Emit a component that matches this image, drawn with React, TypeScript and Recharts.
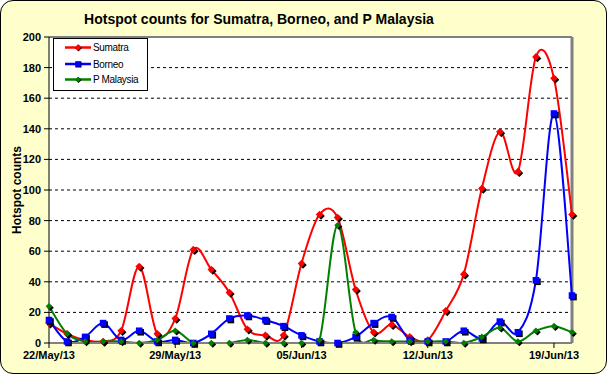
import React from 'react';
import { LineChart, Line, XAxis, YAxis, CartesianGrid, ReferenceLine, Legend } from 'recharts';

const dates = [
  '22/May/13', '23/May/13', '24/May/13', '25/May/13', '26/May/13', '27/May/13', '28/May/13',
  '29/May/13', '30/May/13', '31/May/13', '01/Jun/13', '02/Jun/13', '03/Jun/13', '04/Jun/13',
  '05/Jun/13', '06/Jun/13', '07/Jun/13', '08/Jun/13', '09/Jun/13', '10/Jun/13', '11/Jun/13',
  '12/Jun/13', '13/Jun/13', '14/Jun/13', '15/Jun/13', '16/Jun/13', '17/Jun/13', '18/Jun/13',
  '19/Jun/13', '20/Jun/13',
];
const sumatra = [13, 6, 2, 1, 8, 50, 6, 16, 61, 48, 33, 9, 5, 5, 52, 84, 82, 35, 7, 12, 4, 2, 21, 45, 101, 138, 112, 187, 173, 84];
const borneo = [15, 1, 4, 13, 2, 8, 1, 2, 0, 6, 16, 18, 15, 11, 5, 1, 0, 4, 13, 17, 2, 1, 1, 8, 3, 14, 7, 41, 150, 31];
const pMalaysia = [24, 6, 1, 1, 1, 0, 2, 8, 0, 0, 0, 2, 0, 0, 0, 2, 77, 7, 2, 1, 1, 1, 1, 0, 4, 10, 1, 8, 11, 7];
const yTicks = [0, 20, 40, 60, 80, 100, 120, 140, 160, 180, 200];

const seriesInfo = [
  { key: 'sumatra', name: 'Sumatra', color: '#FF0000', shape: 'diamond', size: 3.8 },
  { key: 'borneo', name: 'Borneo', color: '#0000FF', shape: 'square', size: 3.3 },
  { key: 'pMalaysia', name: 'P Malaysia', color: '#008000', shape: 'diamond', size: 3.3 },
];

const data = dates.map((d, i) => ({ date: d, sumatra: sumatra[i], borneo: borneo[i], pMalaysia: pMalaysia[i] }));

const FONT = '"Liberation Sans", Arial, sans-serif';

// Excel-like smoothed line (Catmull-Rom through the points)
const excelCurve = (context: any) => {
  let xs: number[] = [];
  let ys: number[] = [];
  return {
    areaStart() {},
    areaEnd() {},
    lineStart() { xs = []; ys = []; },
    point(x: number, y: number) { xs.push(+x); ys.push(+y); },
    lineEnd() {
      const n = xs.length;
      if (!n) return;
      context.moveTo(xs[0], ys[0]);
      for (let i = 0; i < n - 1; i++) {
        const x0 = i > 0 ? xs[i - 1] : xs[i];
        const y0 = i > 0 ? ys[i - 1] : ys[i];
        const x3 = i + 2 < n ? xs[i + 2] : xs[i + 1];
        const y3 = i + 2 < n ? ys[i + 2] : ys[i + 1];
        const c1x = xs[i] + (xs[i + 1] - x0) / 6;
        const c1y = ys[i] + (ys[i + 1] - y0) / 6;
        const c2x = xs[i + 1] - (x3 - xs[i]) / 6;
        const c2y = ys[i + 1] - (y3 - ys[i]) / 6;
        context.bezierCurveTo(c1x, c1y, c2x, c2y, xs[i + 1], ys[i + 1]);
      }
    },
  };
};

const shapePath = (shape: string, x: number, y: number, s: number) =>
  shape === 'diamond'
    ? `M${x},${y - s}L${x + s},${y}L${x},${y + s}L${x - s},${y}Z`
    : `M${x - s},${y - s}h${2 * s}v${2 * s}h${-2 * s}Z`;

const makeDot = (color: string, shape: string, size: number) => (props: any) => {
  const { cx, cy, index } = props;
  if (cx == null || cy == null) return <g key={index} />;
  return (
    <g key={index}>
      <path d={shapePath(shape, cx + 1.5, cy + 1.5, size)} fill="#000" />
      <path d={shapePath(shape, cx, cy, size)} fill={color} />
    </g>
  );
};

const renderLegend = () => (
  <svg width={96} height={54} style={{ display: 'block' }}>
    <rect x={0.5} y={0.5} width={94} height={52} fill="#fff" stroke="#000" strokeWidth={1} />
    {seriesInfo.map((s, i) => {
      const y = [9.5, 26, 41.5][i];
      return (
        <g key={s.key}>
          <line x1={12} x2={38} y1={y} y2={y} stroke={s.color} strokeWidth={2.5} />
          <path d={shapePath(s.shape, 25.5, y + 0.5, s.size - 0.3)} fill="#000" />
          <path d={shapePath(s.shape, 25, y, s.size - 0.6)} fill={s.color} />
          <text x={40} y={y + 3.5} fontSize={10} fontFamily={FONT} fill="#000" letterSpacing={-0.35}>{s.name}</text>
        </g>
      );
    })}
  </svg>
);

const YLabel = () => (
  <text x={21} y={190} transform="rotate(-90 21 190)" textAnchor="middle" fontSize={12} fontWeight="bold" fontFamily={FONT} fill="#000">
    Hotspot counts
  </text>
);

export default function App() {
  return (
    <div style={{ position: 'absolute', left: 0, top: 0, width: 607, height: 374, fontFamily: FONT }}>
      <div style={{ position: 'absolute', left: 0, top: 0, width: 607, height: 374, boxSizing: 'border-box', border: '1px solid #000', borderRadius: 13, background: '#FFFFCC' }} />
      <div style={{ position: 'absolute', left: 0, top: 11.5, width: 518, textAlign: 'center', fontSize: 14, lineHeight: '14px', fontWeight: 'bold', color: '#000', whiteSpace: 'nowrap' }}>
        Hotspot counts for Sumatra, Borneo, and P Malaysia
      </div>
      <div style={{ position: 'absolute', left: 0, top: 0 }}>
        <LineChart width={607} height={374} data={data} margin={{ top: 37, right: 35, bottom: 0, left: 0 }}>
          <CartesianGrid yAxisId="main" vertical={false} stroke="#000" strokeDasharray="3 3" fill="#fff" />
          <XAxis
            dataKey="date"
            interval={6}
            height={31}
            tickSize={5}
            tickMargin={3}
            axisLine={{ stroke: '#808080', strokeWidth: 2 }}
            tickLine={{ stroke: '#000' }}
            tick={{ fontSize: 11, fontWeight: 'bold', fill: '#000', fontFamily: FONT }}
          />
          <YAxis
            yAxisId="main"
            orientation="left"
            domain={[0, 200]}
            ticks={yTicks}
            width={49}
            tickSize={5}
            tickMargin={3}
            axisLine={{ stroke: '#000' }}
            tickLine={{ stroke: '#000' }}
            tick={{ fontSize: 11, fontWeight: 'bold', fill: '#000', fontFamily: FONT }}
            label={<YLabel />}
          />
          <YAxis yAxisId="clip" orientation="right" width={0} domain={[0, 200]} allowDataOverflow hide />
          <ReferenceLine yAxisId="main" y={200} stroke="#808080" strokeWidth={2} />
          <ReferenceLine yAxisId="main" x={dates[dates.length - 1]} stroke="#808080" strokeWidth={3} />
          {seriesInfo.flatMap((s) => [
            <Line
              key={s.key + '-line'}
              yAxisId="clip"
              dataKey={s.key}
              name={s.name}
              type={excelCurve as any}
              stroke={s.color}
              strokeWidth={2}
              dot={false}
              activeDot={false}
              isAnimationActive={false}
            />,
            <Line
              key={s.key + '-dots'}
              yAxisId="main"
              dataKey={s.key}
              legendType="none"
              stroke="none"
              dot={makeDot(s.color, s.shape, s.size)}
              activeDot={false}
              isAnimationActive={false}
            />,
          ])}
          <Legend
            content={renderLegend}
            layout="vertical"
            align="center"
            verticalAlign="middle"
            wrapperStyle={{ left: 53, top: 38, width: 96, height: 54 }}
          />
        </LineChart>
      </div>
    </div>
  );
}
